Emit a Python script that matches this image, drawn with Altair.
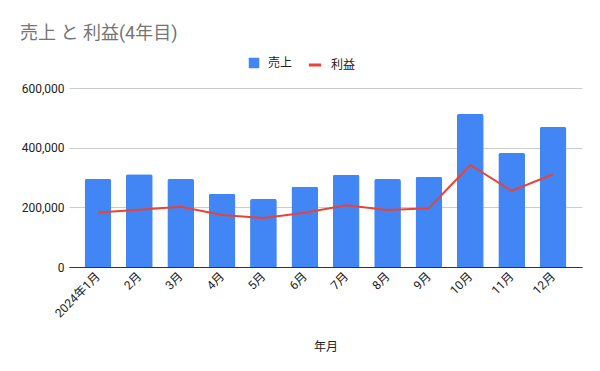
import altair as alt
import pandas as pd

months = ["2024年1月", "2月", "3月", "4月", "5月", "6月", "7月", "8月", "9月", "10月", "11月", "12月"]
sales = [295000, 311000, 295000, 245000, 228000, 269000, 309000, 295000, 302000, 513000, 382000, 469000]
profit = [183000, 192000, 202000, 174000, 164000, 182000, 207000, 191000, 197000, 342000, 255000, 311000]
y_ticks = [0, 200000, 400000, 600000]

FONT = "Roboto, 'Noto Sans CJK JP', sans-serif"

df = pd.DataFrame({"年月": months, "売上": sales, "利益": profit})

xenc = alt.X(
    "年月:N",
    sort=months,
    scale=alt.Scale(paddingInner=0.354, paddingOuter=0.377),
    axis=alt.Axis(
        title="年月",
        labelAngle=-45,
        labelAlign="right",
        labelBaseline="middle",
        labelPadding=7,
        ticks=False,
        domainColor="#333333",
        labelFontSize=12,
        labelColor="#222222",
        titleFontSize=12,
        titleFontWeight="normal",
        titleColor="#222222",
        titlePadding=22,
        labelFont=FONT,
        titleFont=FONT,
    ),
)

yscale = alt.Scale(domain=[0, 600000])
yaxis = alt.Axis(
    title=None,
    values=y_ticks,
    labelExpr="format(datum.value, ',')",
    domain=False,
    ticks=False,
    gridColor="#cccccc",
    labelFontSize=12,
    labelColor="#222222",
    labelPadding=5,
    labelFont=FONT,
)

bars = alt.Chart(df).transform_calculate(series="'売上'").mark_bar(
    cornerRadiusTopLeft=2, cornerRadiusTopRight=2
).encode(
    x=xenc,
    y=alt.Y("売上:Q", scale=yscale, axis=yaxis),
    fill=alt.Fill(
        "series:N",
        scale=alt.Scale(domain=["売上"], range=["#4285F4"]),
        legend=alt.Legend(
            title=None, orient="none", legendX=179, legendY=-31,
            symbolType="square", symbolSize=110, labelFontSize=12,
            labelColor="#222222", labelFont=FONT, padding=0, labelOffset=8,
        ),
    ),
)

line = alt.Chart(df).transform_calculate(series="'利益'").mark_line(
    strokeWidth=2
).encode(
    x=alt.X("年月:N", sort=months),
    y=alt.Y("利益:Q", scale=yscale, axis=yaxis),
    stroke=alt.Stroke(
        "series:N",
        scale=alt.Scale(domain=["利益"], range=["#EA4335"]),
        legend=alt.Legend(
            title=None, orient="none", legendX=238, legendY=-31,
            symbolType="stroke", symbolSize=150, symbolStrokeWidth=3,
            labelFontSize=12, labelColor="#222222", labelFont=FONT,
            padding=0, labelOffset=8,
        ),
    ),
)

chart = alt.layer(bars, line).resolve_scale(fill="independent", stroke="independent").properties(
    width=513,
    height=179,
    padding={"left": 61, "top": 80, "right": 10, "bottom": 96},
    autosize=alt.AutoSizeParams(type="none"),
    title=alt.Title(
        "売上 と 利益(4年目)",
        anchor="start",
        frame="group",
        dx=-49,
        offset=14,
        fontSize=18,
        fontWeight="normal",
        color="#757575",
        font=FONT,
    ),
).configure_view(stroke=None)

chart.save("out.html", embed_options={"renderer": "svg", "actions": False})
